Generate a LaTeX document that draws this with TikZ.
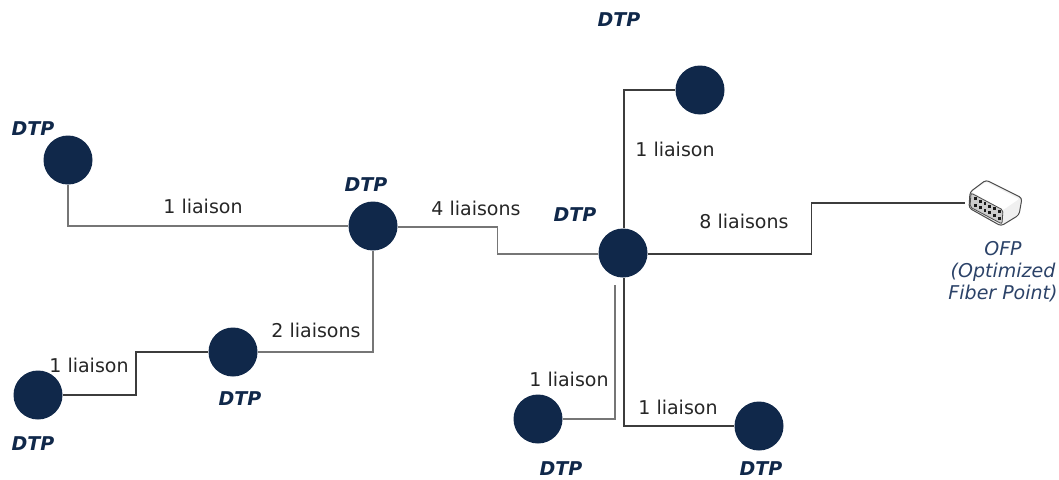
\documentclass[tikz,border=0pt]{standalone}
\usepackage{fontspec}
\setmainfont{DejaVu Sans}
\usepackage{xcolor}
\usetikzlibrary{calc}
\definecolor{navy}{HTML}{10284A}
\definecolor{ofpblue}{HTML}{2B4268}
\definecolor{ln}{HTML}{767676}
\definecolor{lndark}{HTML}{3C3C3C}

\begin{document}
\begin{tikzpicture}[
      x = 1pt, y = -1pt, % pixel units, y going down
      line width = 1.1pt, % line style
    ]

    \tikzstyle{dtp}=[
      circle,
      fill = navy,
      draw = none,
      minimum size = 49pt,
      inner sep = 0pt
    ]
    \tikzstyle{dtplabel}=[font=\fontsize{19}{22}\selectfont\bfseries\itshape, text = navy]
    \tikzstyle{liaison}=[font=\fontsize{19}{22}\selectfont, text = black!85]
    \tikzstyle{cable}=[draw = ln]
    \tikzstyle{cabledark}=[draw = lndark]

    \useasboundingbox (0,0) rectangle (1059,479);

    \node[dtp] (a) [at={(68,160)}] {};
    \node[dtp] (b) [at={(373,226)}] {};
    \node[dtp] (c) [at={(233,352)}] {};
    \node[dtp] (d) [at={(38,395)}] {};
    \node[dtp] (e) [at={(623,253)}] {};
    \node[dtp] (f) [at={(700,90)}] {};
    \node[dtp] (g) [at={(538,419)}] {};
    \node[dtp] (h) [at={(759,426)}] {};
    \node[inner sep = 0pt, minimum width = 56pt, minimum height = 44pt] (ofp) [at={(994,203)}] {};

    \node[dtplabel] (ta) [at={(33,129)}] {DTP};
    \node[dtplabel] (tb) [at={(366,185)}] {DTP};
    \node[dtplabel] (tc) [at={(240,399)}] {DTP};
    \node[dtplabel] (td) [at={(33,444)}] {DTP};
    \node[dtplabel] (te) [at={(575,215)}] {DTP};
    \node[dtplabel] (tf) [at={(619,20)}] {DTP};
    \node[dtplabel] (tg) [at={(561,469)}] {DTP};
    \node[dtplabel] (th) [at={(761,469)}] {DTP};
    \node[font=\fontsize{19}{22}\selectfont\itshape, text = ofpblue, align = center, inner sep = 0pt] (tofp) [at={(1003,272)}] {OFP\\(Optimized\\Fiber Point)};

    \node[liaison] (lab) [at={(203,206)}] {1 liaison};
    \node[liaison] (lbe) [at={(476,208)}] {4 liaisons};
    \node[liaison] (lbc) [at={(316,330)}] {2 liaisons};
    \node[liaison] (lcd) [at={(89,365)}] {1 liaison};
    \node[liaison] (lef) [at={(675,149)}] {1 liaison};
    \node[liaison] (leo) [at={(744,221)}] {8 liaisons};
    \node[liaison] (leg) [at={(569,379)}] {1 liaison};
    \node[liaison] (leh) [at={(678,407)}] {1 liaison};

    \draw[cable] (a.south) |- (b.west);
    \draw[cable] ([yshift=-1pt]b.east) -- ++(99,0) |- ([yshift=-1pt]e.west);
    \draw[cable] (b.south) |- (c.east);
    \draw[cabledark] (c.west) -- ++(-72,0) |- (d.east);
    \draw[cabledark] ([xshift=1pt]e.north) |- (f.west);
    \draw[cabledark] ([yshift=-1pt]e.east) -- ++(163,0) |- (ofp.west);
    \draw[cable] ([xshift=-8pt,yshift=-7pt]e.south) |- (g.east);
    \draw[cabledark] ([xshift=1pt]e.south) |- (h.west);

    % OFP connector box
    \draw[draw = gray!60!black, fill = gray!12, line width = 1pt, rounded corners = 3pt]
      (970,192) -- (986,180) -- (1022,198) -- (1019,215) -- (1001,226) -- (969,208) -- cycle;
    \fill[white, rounded corners = 1pt] (972,192) -- (986,182) -- (1019,199) -- (1003,210) -- cycle;
    \draw[draw = gray!60!black, fill = gray!40, line width = 0.8pt, rounded corners = 2pt]
      (971,193) -- (1003,210) -- (1002,224) -- (970,207) -- cycle;
    \foreach \i in {0,...,5}
      \foreach \j in {0,1}
        \fill[gray!20!black] ($(974,197)+\i*(4.8,2.6)+\j*(0,6.5)$) rectangle ++(2.8,3);

  \end{tikzpicture}
\end{document}
